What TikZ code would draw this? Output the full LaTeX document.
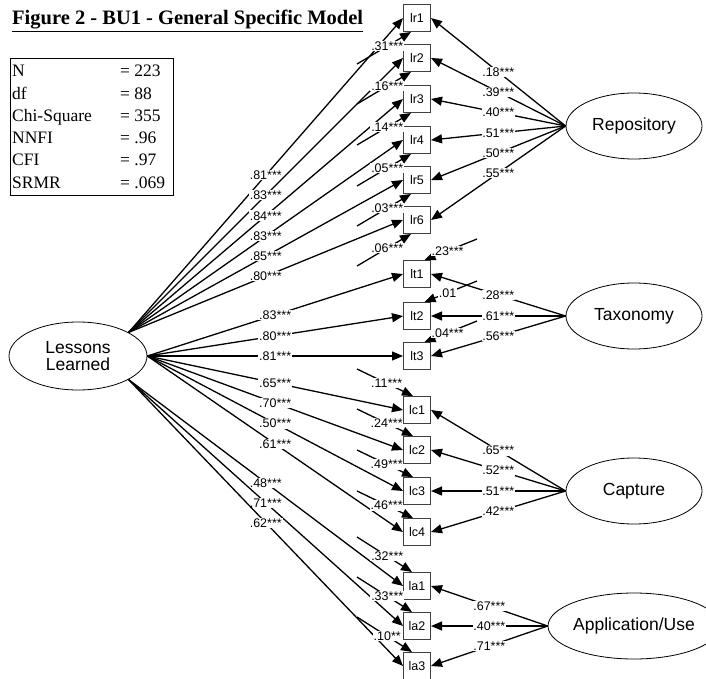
\documentclass[tikz,border=0pt]{standalone}
\usepackage{fontspec}
\setmainfont{Liberation Sans}
\newfontfamily\tnr{Liberation Serif}
\usetikzlibrary{shapes.geometric,arrows.meta,calc}
\begin{document}
\begin{tikzpicture}[x=1pt,y=-1pt,
  box/.style={draw=black!75, line width=1pt, minimum width=27pt, minimum height=27pt, inner sep=0pt, font=\fontsize{12.5}{12}\selectfont},
  lat/.style={draw, ellipse, line width=0.8pt, minimum width=136pt, minimum height=66pt, inner sep=0pt, font=\fontsize{17.5}{17}\selectfont, align=center},
  arr/.style={line width=1.3pt, -{Triangle[length=11pt,width=9pt]}},
  lab/.style={fill=white, inner sep=0.8pt, font=\fontsize{12.5}{12}\selectfont},
  stat/.style={font=\tnr\fontsize{17.5}{17.5}\selectfont, inner sep=0pt, anchor=base west}]
\useasboundingbox (0,0) rectangle (706,679);

% title
\node[anchor=base west, inner sep=0pt, font=\tnr\bfseries\fontsize{20.5}{20}\selectfont] (title) at (12,25) {\underline{Figure 2 - BU1 - General Specific Model}};

% fit statistics
\node[draw, line width=0.8pt, minimum width=163pt, minimum height=137pt, anchor=north west, inner sep=0pt] (stats) at (10,58) {};
\foreach \k/\v/\y [count=\i] in {N/= 223/77, df/= 88/100, Chi-Square/= 355/122, NNFI/= .96/144, CFI/= .97/166, SRMR/= .069/188} {
  \node[stat] (sk\i) at (12,\y) {\k};
  \node[stat] (sv\i) at (120,\y) {\v};
}

% indicators
\foreach \n/\y in {lr1/18, lr2/58, lr3/99, lr4/140, lr5/180, lr6/220, lt1/274, lt2/316, lt3/356, lc1/410, lc2/450, lc3/491, lc4/532, la1/586, la2/626, la3/666}
  \node[box] (\n) at (417,\y) {\n};

% latent variables
\node[lat, minimum width=138pt, minimum height=68pt] (LL) at (78,356) {Lessons\\Learned};
\node[lat] (Rep) at (634,126) {Repository};
\node[lat] (Tax) at (634,316) {Taxonomy};
\node[lat] (Cap) at (634,491) {Capture};
\node[lat] (App) at (634,626) {Application/Use};

% general factor loadings
\foreach \n/\v in {lr1/.81, lr2/.83, lr3/.84, lr4/.83, lr5/.85, lr6/.80}
  \draw[arr] (LL.25) -- (\n.west) node[lab, pos=0.5] {\v***};
\foreach \n/\v in {lt1/.83, lt2/.80, lt3/.81, lc1/.65, lc2/.70, lc3/.50, lc4/.61}
  \draw[arr] (LL.east) -- (\n.west) node[lab, pos=0.5] {\v***};
\foreach \n/\v in {la1/.48, la2/.71, la3/.62}
  \draw[arr] (LL.-25) -- (\n.west) node[lab, pos=0.5] {\v***};

% specific factor loadings
\foreach \n/\v in {lr1/.18, lr2/.39, lr3/.40, lr4/.51, lr5/.50, lr6/.55}
  \draw[arr] (Rep.west) -- (\n.east) node[lab, pos=0.5] {\v***};
\foreach \n/\v in {lt1/.28, lt2/.61, lt3/.56}
  \draw[arr] (Tax.west) -- (\n.east) node[lab, pos=0.5] {\v***};
\foreach \n/\v in {lc1/.65, lc2/.52, lc3/.51, lc4/.42}
  \draw[arr] (Cap.west) -- (\n.east) node[lab, pos=0.5] {\v***};
\foreach \n/\v in {la1/.67, la2/.40, la3/.71}
  \draw[arr] (App.west) -- (\n.east) node[lab, pos=0.5] {\v***};

% error terms
\foreach \n/\v in {lr1/.31***, lr2/.16***, lr3/.14***, lr4/.05***, lr5/.03***, lr6/.06***} {
  \coordinate (e\n) at ($(\n.south west)+(-46,32)$);
  \draw[arr] (e\n) -- ([xshift=8pt]\n.south west) node[lab, pos=0.56] {\v};
}
\foreach \n/\v in {lt1/.23***, lt2/.01, lt3/.04***} {
  \coordinate (e\n) at ($(\n.north east)+(46,-21)$);
  \draw[arr] (e\n) -- ([xshift=-6.5pt]\n.north east) node[lab, pos=0.56] {\v};
}
\foreach \n/\v in {lc1/.11***, lc2/.24***, lc3/.49***, lc4/.46***} {
  \coordinate (e\n) at ($(\n.north west)+(-46,-27)$);
  \draw[arr] (e\n) -- ([xshift=10pt]\n.north west) node[lab, pos=0.53] {\v};
}
\foreach \n/\v in {la1/.32***, la2/.33***, la3/.10**} {
  \coordinate (e\n) at ($(\n.north west)+(-46,-35)$);
  \draw[arr] (e\n) -- ([xshift=9pt]\n.north west) node[lab, pos=0.55] {\v};
}
\end{tikzpicture}
\end{document}
